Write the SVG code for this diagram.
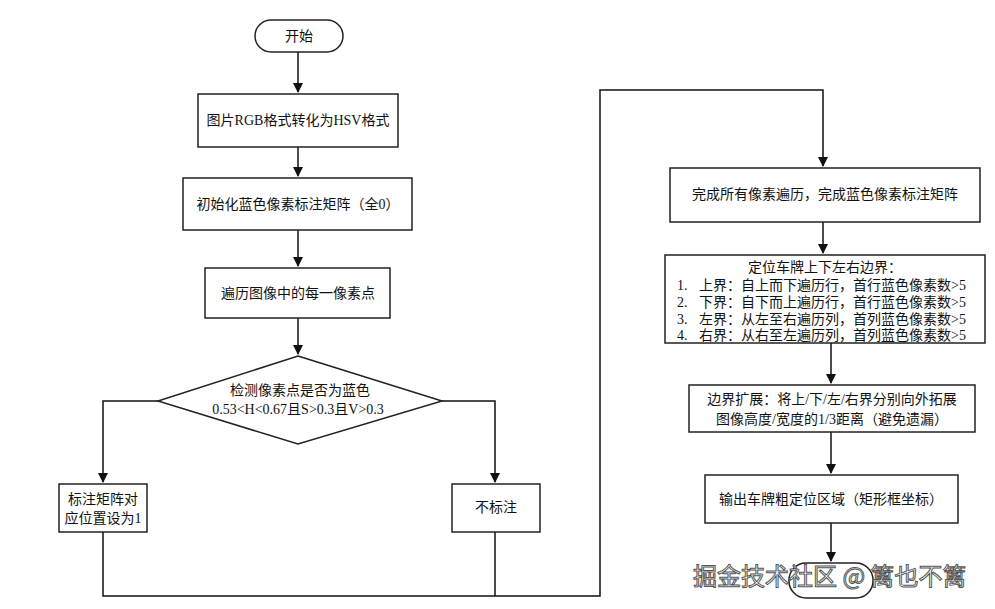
<svg xmlns="http://www.w3.org/2000/svg" width="995" height="609" viewBox="0 0 995 609">
<style>
.b{fill:#fff;stroke:#222;stroke-width:1.5}
.l{fill:none;stroke:#111;stroke-width:1.5}
text{font-family:"Liberation Serif","Noto Sans CJK SC",serif;font-size:14px;fill:#111;text-anchor:middle}
.s{text-anchor:start}
.w{font-family:"Noto Sans CJK SC",sans-serif;font-size:24px;fill:#fff;stroke:#555;stroke-width:1;text-anchor:start}
</style>
<defs><marker id="a" markerWidth="10" markerHeight="10" refX="9" refY="5" orient="auto" markerUnits="userSpaceOnUse"><path d="M0,0L10,5L0,10z" fill="#111"/></marker></defs>
<rect width="995" height="609" fill="#fff"/>
<g id="connectors">
<path class="l" d="M298,52V92" marker-end="url(#a)"/>
<path class="l" d="M298,147V176" marker-end="url(#a)"/>
<path class="l" d="M298,230V266" marker-end="url(#a)"/>
<path class="l" d="M298,318V354" marker-end="url(#a)"/>
<path class="l" d="M158,401H103V482" marker-end="url(#a)"/>
<path class="l" d="M442,401H495V482" marker-end="url(#a)"/>
<path class="l" d="M103,532V596H600V90H823V166" marker-end="url(#a)"/>
<path class="l" d="M495,532V596"/>
<path class="l" d="M823,222V253" marker-end="url(#a)"/>
<path class="l" d="M831,343V383" marker-end="url(#a)"/>
<path class="l" d="M831,432V473" marker-end="url(#a)"/>
<path class="l" d="M831,523V561" marker-end="url(#a)"/>
</g>
<g id="start"><rect class="b" x="255" y="20" width="88" height="32" rx="16"/><text x="299" y="41">开始</text></g>
<g id="n1"><rect class="b" x="198" y="94" width="200" height="53"/><text x="298" y="125">图片RGB格式转化为HSV格式</text></g>
<g id="n2"><rect class="b" x="183" y="178" width="229" height="52"/><text x="298" y="209">初始化蓝色像素标注矩阵（全0）</text></g>
<g id="n3"><rect class="b" x="205" y="268" width="185" height="50"/><text x="298" y="298">遍历图像中的每一像素点</text></g>
<g id="d"><path class="b" d="M298,356L442,401L298,444L158,401Z"/><text x="300" y="395">检测像素点是否为蓝色</text><text x="298" y="414">0.53&lt;H&lt;0.67且S&gt;0.3且V&gt;0.3</text></g>
<g id="yes"><rect class="b" x="59" y="484" width="88" height="48"/><text x="103" y="504">标注矩阵对</text><text x="103" y="523">应位置设为1</text></g>
<g id="no"><rect class="b" x="452" y="484" width="88" height="48"/><text x="496" y="512">不标注</text></g>
<g id="r1"><rect class="b" x="670" y="168" width="310" height="54"/><text x="825" y="199">完成所有像素遍历，完成蓝色像素标注矩阵</text></g>
<g id="r2"><rect class="b" x="665" y="255" width="320" height="88"/>
<text x="825" y="272">定位车牌上下左右边界：</text>
<text class="s" x="677" y="290">1.</text><text class="s" x="699" y="290">上界：自上而下遍历行，首行蓝色像素数&gt;5</text>
<text class="s" x="677" y="307">2.</text><text class="s" x="699" y="307">下界：自下而上遍历行，首行蓝色像素数&gt;5</text>
<text class="s" x="677" y="324">3.</text><text class="s" x="699" y="324">左界：从左至右遍历列，首列蓝色像素数&gt;5</text>
<text class="s" x="677" y="340">4.</text><text class="s" x="699" y="340">右界：从右至左遍历列，首列蓝色像素数&gt;5</text></g>
<g id="r3"><rect class="b" x="689" y="385" width="286" height="47"/><text x="832" y="404">边界扩展：将上/下/左/右界分别向外拓展</text><text x="832" y="424">图像高度/宽度的1/3距离（避免遗漏）</text></g>
<g id="r4"><rect class="b" x="705" y="475" width="253" height="48"/><text x="831" y="504">输出车牌粗定位区域（矩形框坐标）</text></g>
<g id="end"><rect class="b" x="789" y="563" width="84" height="35" rx="17"/></g>
<text class="w" x="693" y="585">掘金技术社区 @ 篱也不篱</text>
</svg>
